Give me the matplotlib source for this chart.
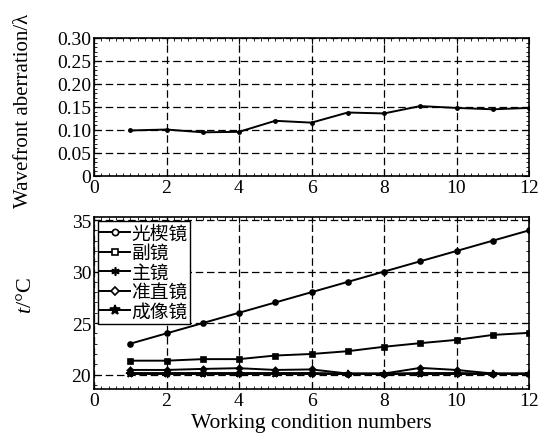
import matplotlib.pyplot as plt
from matplotlib.ticker import MultipleLocator
from matplotlib.lines import Line2D

plt.rcParams['font.family'] = ['Liberation Serif', 'Noto Sans CJK SC']
plt.rcParams['mathtext.fontset'] = 'custom'
plt.rcParams['mathtext.rm'] = 'Liberation Serif'
plt.rcParams['mathtext.it'] = 'Liberation Serif:italic'

# working conditions
cond = [1, 2, 3, 4, 5, 6, 7, 8, 9, 10, 11, 12]

# wavefront aberration (lambda)
wfe = [0.099, 0.101, 0.095, 0.096, 0.120, 0.116, 0.138, 0.136, 0.152, 0.148, 0.145, 0.148]

# temperatures of each mirror
labels = ['光楔镜', '副镜', '主镜', '准直镜', '成像镜']
t_wedge = [23, 24, 25, 26, 27, 28, 29, 30, 31, 32, 33, 34]
t_second = [21.35, 21.35, 21.5, 21.5, 21.85, 22.0, 22.27, 22.7, 23.05, 23.37, 23.85, 24.05]
t_primary = [20.15, 20.15, 20.15, 20.15, 20.15, 20.15, 20.1, 20.1, 20.15, 20.15, 20.1, 20.1]
t_collim = [20.45, 20.45, 20.55, 20.62, 20.45, 20.5, 20.1, 20.1, 20.65, 20.45, 20.1, 20.1]
t_image = [20.02, 20.02, 20.02, 20.02, 20.02, 20.02, 20.02, 20.02, 20.02, 20.02, 20.02, 20.02]
temps = [t_wedge, t_second, t_primary, t_collim, t_image]
markers = ['o', 's', (6, 2, 0), 'D', '*']
msizes = [4.5, 4.5, 6, 4, 7]

fig = plt.figure(figsize=(5.52, 4.39), dpi=100)
ax1 = fig.add_axes([94 / 552, 1 - 177 / 439, 435 / 552, 138 / 439])
ax2 = fig.add_axes([94 / 552, 1 - 390 / 439, 435 / 552, 172 / 439])

fs = 14

ax1.plot(cond, wfe, color='black', lw=1.4, marker='o', ms=2.5)
ax1.set_xlim(0, 12)
ax1.set_ylim(0, 0.30)
ax1.xaxis.set_major_locator(MultipleLocator(2))
ax1.xaxis.set_minor_locator(MultipleLocator(0.2))
ax1.yaxis.set_major_locator(MultipleLocator(0.05))
ax1.yaxis.set_minor_locator(MultipleLocator(0.01))
ax1.set_yticklabels(['0' if v == 0 else f'{v:.2f}' for v in ax1.get_yticks()])
ax1.set_ylabel('Wavefront aberration/λ', fontsize=15, family=['Liberation Serif', 'DejaVu Serif'])
ax1.yaxis.set_label_coords(-0.14, 0.48)

for i, t in enumerate(temps):
    ax2.plot(cond, t, color='black', lw=1.4, marker=markers[i], ms=msizes[i] * 0.8,
             mfc='black', mec='black', mew=1.2)
ax2.set_xlim(0, 12)
ax2.set_ylim(18.6, 35.3)
ax2.xaxis.set_major_locator(MultipleLocator(2))
ax2.xaxis.set_minor_locator(MultipleLocator(0.2))
ax2.yaxis.set_major_locator(MultipleLocator(5))
ax2.yaxis.set_minor_locator(MultipleLocator(1))
ax2.set_ylabel(r'$t$/°C', fontsize=16)
ax2.yaxis.set_label_coords(-0.133, 0.55)
ax2.set_xlabel('Working condition numbers', fontsize=15.5, labelpad=3)

handles = [Line2D([], [], color='black', lw=1.4, marker=markers[i], ms=msizes[i],
                  mfc='black' if i in (2, 4) else 'white', mec='black', mew=1.2)
           for i in range(len(labels))]
leg = ax2.legend(handles, labels, loc='upper left', handlelength=1.6, handletextpad=0.1,
                 labelspacing=-0.08, borderpad=0.1, borderaxespad=0.2, fancybox=False,
                 prop={'family': 'Noto Sans CJK SC', 'size': 13.5})
leg.get_frame().set_edgecolor('black')
leg.get_frame().set_linewidth(1.0)
leg.get_frame().set_alpha(1)

for ax in (ax1, ax2):
    ax.grid(True, which='major', color='black', ls=(0, (6, 3)), lw=0.9)
    ax.tick_params(which='both', direction='in', top=True, right=True, labelsize=fs, pad=2)
    ax.tick_params(which='major', length=4)
    ax.tick_params(which='minor', length=2)
    for s in ax.spines.values():
        s.set_linewidth(1.2)

fig.savefig('out.png', dpi=100)
